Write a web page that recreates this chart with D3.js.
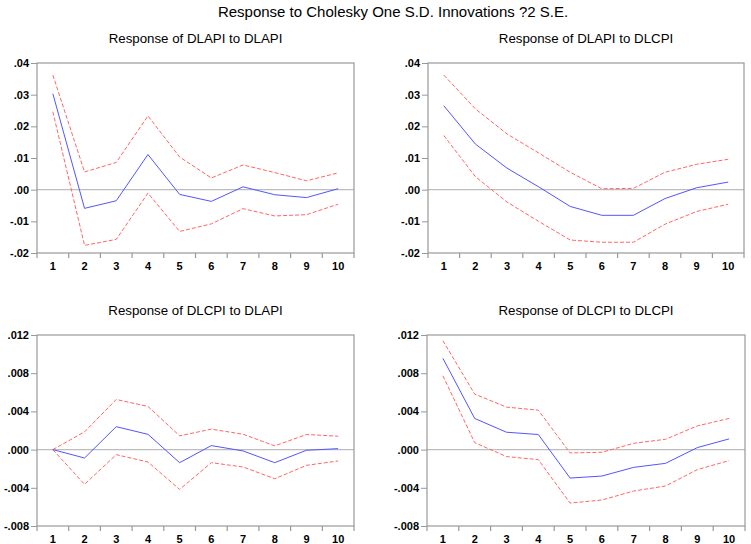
<!DOCTYPE html>
<html>
<head>
<meta charset="utf-8">
<script src="https://cdn.jsdelivr.net/npm/d3@7"></script>
<style>
  body { margin: 0; background: #fff; }
  svg { display: block; font-family: "Liberation Sans", Arial, sans-serif; }
</style>
</head>
<body>
<svg id="chart" width="751" height="544"></svg>
<script>
// ---- data ----
const periods = [1, 2, 3, 4, 5, 6, 7, 8, 9, 10];

const apiApiResp  = [0.0303, -0.0059, -0.0035, 0.0111, -0.0015, -0.0037, 0.0009, -0.0016, -0.0025, 0.0003];
const apiApiUpper = [0.0362, 0.0056, 0.0086, 0.0233, 0.0103, 0.0037, 0.0078, 0.0054, 0.0028, 0.0053];
const apiApiLower = [0.0246, -0.0176, -0.0157, -0.0011, -0.0132, -0.0108, -0.0060, -0.0083, -0.0079, -0.0046];

const apiCpiResp  = [0.0265, 0.0144, 0.0068, 0.0009, -0.0053, -0.0081, -0.0081, -0.0028, 0.0006, 0.0024];
const apiCpiUpper = [0.0362, 0.0255, 0.0176, 0.0116, 0.0055, 0.0003, 0.0004, 0.0055, 0.0080, 0.0096];
const apiCpiLower = [0.0171, 0.0041, -0.0039, -0.0100, -0.0159, -0.0166, -0.0166, -0.0109, -0.0069, -0.0046];

const cpiApiResp  = [0.0000, -0.00088, 0.00240, 0.00160, -0.00137, 0.00042, -0.00014, -0.00137, -0.00007, 0.00010];
const cpiApiUpper = [0.0000, 0.00186, 0.00525, 0.00452, 0.00144, 0.00214, 0.00161, 0.00039, 0.00158, 0.00140];
const cpiApiLower = [0.0000, -0.00364, -0.00053, -0.00130, -0.00417, -0.00137, -0.00182, -0.00305, -0.00165, -0.00119];

const cpiCpiResp  = [0.00956, 0.00326, 0.00182, 0.00158, -0.00298, -0.00277, -0.00186, -0.00144, 0.00021, 0.00112];
const cpiCpiUpper = [0.01140, 0.00581, 0.00445, 0.00413, -0.00035, -0.00028, 0.00066, 0.00108, 0.00248, 0.00326];
const cpiCpiLower = [0.00773, 0.00073, -0.00073, -0.00105, -0.00560, -0.00528, -0.00434, -0.00381, -0.00210, -0.00115];

const ticksTop = [-0.02, -0.01, 0.00, 0.01, 0.02, 0.03, 0.04];
const ticksBottom = [-0.008, -0.004, 0.000, 0.004, 0.008, 0.012];

const mainTitle = "Response to Cholesky One S.D. Innovations ?2 S.E.";

const panels = [
  { title: "Response of DLAPI to DLAPI", resp: apiApiResp, upper: apiApiUpper, lower: apiApiLower,
    ticks: ticksTop, decimals: 2, box: { l: 37, r: 354, t: 63, b: 253 } },
  { title: "Response of DLAPI to DLCPI", resp: apiCpiResp, upper: apiCpiUpper, lower: apiCpiLower,
    ticks: ticksTop, decimals: 2, box: { l: 428, r: 744, t: 63, b: 253 } },
  { title: "Response of DLCPI to DLAPI", resp: cpiApiResp, upper: cpiApiUpper, lower: cpiApiLower,
    ticks: ticksBottom, decimals: 3, box: { l: 37, r: 354, t: 335, b: 526 } },
  { title: "Response of DLCPI to DLCPI", resp: cpiCpiResp, upper: cpiCpiUpper, lower: cpiCpiLower,
    ticks: ticksBottom, decimals: 3, box: { l: 427, r: 745, t: 335, b: 526 } }
];

// ---- drawing ----
const svg = d3.select("#chart");
const frameColor = "#999999";
const tickFont = { size: "11px", weight: "bold" };

svg.append("text")
  .attr("x", 393).attr("y", 17)
  .attr("text-anchor", "middle")
  .attr("font-size", "15px")
  .attr("fill", "#000")
  .text(mainTitle);

panels.forEach(p => {
  const { l, r, t, b } = p.box;
  const x = d3.scaleBand().domain(periods).range([l, r]);
  const y = d3.scaleLinear().domain([p.ticks[0], p.ticks[p.ticks.length - 1]]).range([b, t]);
  const g = svg.append("g");

  // subtitle
  g.append("text")
    .attr("x", (l + r) / 2).attr("y", t - 20)
    .attr("text-anchor", "middle")
    .attr("font-size", "13.3px")
    .attr("fill", "#000")
    .text(p.title);

  // zero line
  g.append("line")
    .attr("x1", l).attr("x2", r)
    .attr("y1", y(0)).attr("y2", y(0))
    .attr("stroke", "#bdbdbd").attr("stroke-width", 1.2);

  // frame
  g.append("rect")
    .attr("x", l).attr("y", t)
    .attr("width", r - l).attr("height", b - t)
    .attr("fill", "none").attr("stroke", frameColor).attr("stroke-width", 1.2);

  // y axis
  const fmt = d3.format("." + p.decimals + "f");
  const yAxis = d3.axisLeft(y)
    .tickValues(p.ticks)
    .tickSize(6)
    .tickPadding(2)
    .tickFormat(v => fmt(v).replace("\u2212", "-").replace(/^(-?)0\./, "$1."));
  const ya = g.append("g").attr("transform", `translate(${l},0)`).call(yAxis);
  ya.select(".domain").remove();
  ya.selectAll("line").attr("stroke", frameColor);
  ya.selectAll("text")
    .attr("font-size", tickFont.size).attr("font-weight", tickFont.weight)
    .attr("font-family", "'Liberation Sans', Arial, sans-serif").attr("fill", "#000");

  // x axis labels
  const xAxis = d3.axisBottom(x).tickSize(0).tickPadding(9);
  const xa = g.append("g").attr("transform", `translate(0,${b})`).call(xAxis);
  xa.select(".domain").remove();
  xa.selectAll("text")
    .attr("font-size", tickFont.size).attr("font-weight", tickFont.weight)
    .attr("font-family", "'Liberation Sans', Arial, sans-serif").attr("fill", "#000");

  // x tick marks at band boundaries
  const bounds = periods.map(d => x(d)).concat([x(periods[periods.length - 1]) + x.bandwidth()]);
  g.selectAll(".xtick").data(bounds).enter().append("line")
    .attr("x1", d => d).attr("x2", d => d)
    .attr("y1", b).attr("y2", b + 5)
    .attr("stroke", frameColor).attr("stroke-width", 1.2);

  const line = d3.line()
    .x((d, i) => x(periods[i]) + x.bandwidth() / 2)
    .y(d => y(d));

  [p.upper, p.lower].forEach(s => {
    g.append("path")
      .attr("d", line(s))
      .attr("fill", "none")
      .attr("stroke", "#ff6666")
      .attr("stroke-width", 1)
      .attr("stroke-dasharray", "4,2");
  });

  g.append("path")
    .attr("d", line(p.resp))
    .attr("fill", "none")
    .attr("stroke", "#5555ff")
    .attr("stroke-width", 1);
});
</script>
</body>
</html>
